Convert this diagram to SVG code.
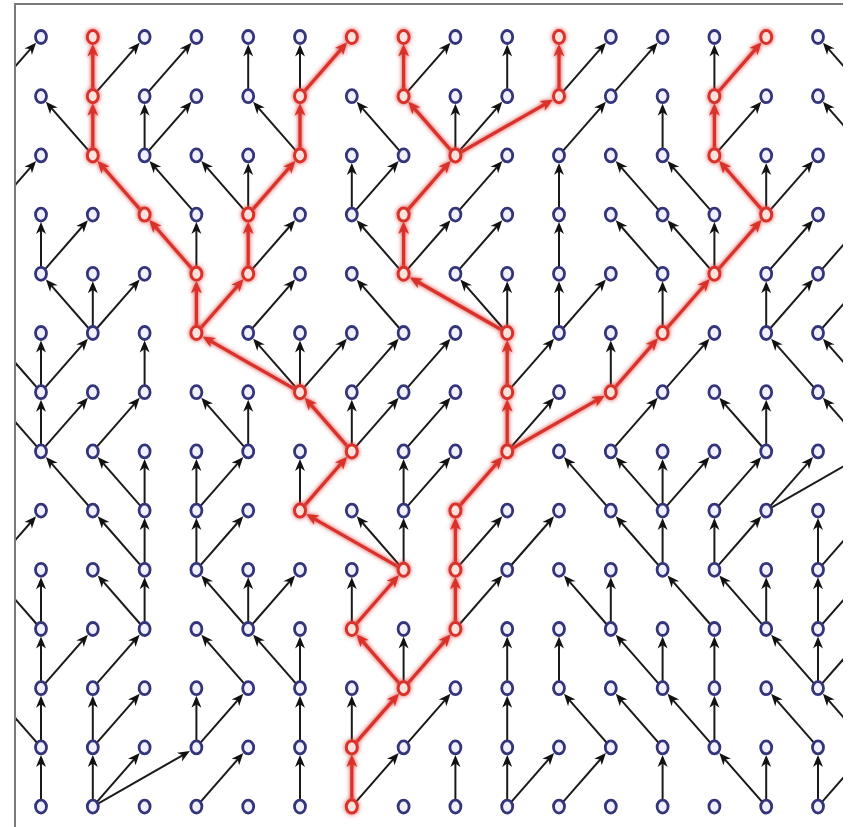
<svg xmlns="http://www.w3.org/2000/svg" width="850" height="827" viewBox="0 0 850 827">
<style>
.k{fill:none;stroke:#1a1a1a;stroke-width:2;marker-end:url(#ak)}
.r{fill:none;stroke:#d9302c;stroke-width:3.2;marker-end:url(#ar)}
.nodes ellipse{fill:#f1f0ff;stroke:#33347a;stroke-width:2.8}
.rnodes ellipse{fill:#ffe2dc;stroke:#d9302c;stroke-width:3}
.frame{stroke:#7a7a7a;stroke-width:2;fill:none}
</style>
<defs>
<marker id="ak" viewBox="-9 -7 14 14" refX="0" refY="0" markerWidth="14" markerHeight="14" markerUnits="userSpaceOnUse" orient="auto"><path d="M4,0 L-8,-5 L-4.5,0 L-8,5 Z" fill="#111"/></marker>
<marker id="ar" viewBox="-9 -7 14 14" refX="0" refY="0" markerWidth="14" markerHeight="14" markerUnits="userSpaceOnUse" orient="auto"><path d="M4.5,0 L-8,-5.5 L-4.5,0 L-8,5.5 Z" fill="#d9302c"/></marker>
<clipPath id="clip"><rect x="16" y="5" width="827" height="822"/></clipPath>
<filter id="glow" filterUnits="userSpaceOnUse" x="0" y="0" width="850" height="827"><feGaussianBlur in="SourceGraphic" stdDeviation="2.2" result="b"/><feMerge><feMergeNode in="b"/><feMergeNode in="SourceGraphic"/></feMerge></filter>
</defs>
<rect width="850" height="827" fill="#fff"/>
<g id="frame" class="frame"><path d="M15,3V827M14,4H843"/></g>
<g id="connectors" clip-path="url(#clip)">
<g id="black-edges" class="k">
<path d="M-10.8,96.2l44.23-50.55"/><path d="M92.8,96.2l44.23-50.55"/><path d="M144.6,96.2l44.23-50.55"/><path d="M248.2,96.2v-47.7"/><path d="M300,96.2v-47.7"/><path d="M403.6,96.2l44.23-50.55"/><path d="M507.2,96.2v-47.7"/><path d="M559,96.2l44.23-50.55"/><path d="M610.8,96.2l44.23-50.55"/><path d="M714.4,96.2v-47.7"/><path d="M869.8,96.2l-44.23-50.55"/>
<path d="M92.8,155.4l-44.23-50.55"/><path d="M144.6,155.4v-47.7"/><path d="M144.6,155.4l44.23-50.55"/><path d="M300,155.4l-44.23-50.55"/><path d="M403.6,155.4l-44.23-50.55"/><path d="M455.4,155.4v-47.7"/><path d="M455.4,155.4l44.23-50.55"/><path d="M559,155.4l44.23-50.55"/><path d="M662.6,155.4v-47.7"/><path d="M714.4,155.4l44.23-50.55"/><path d="M869.8,155.4l-44.23-50.55"/>
<path d="M-10.8,214.6l44.23-50.55"/><path d="M196.4,214.6l-44.23-50.55"/><path d="M248.2,214.6l-44.23-50.55"/><path d="M248.2,214.6v-47.7"/><path d="M351.8,214.6v-47.7"/><path d="M351.8,214.6l44.23-50.55"/><path d="M455.4,214.6l44.23-50.55"/><path d="M559,214.6v-47.7"/><path d="M662.6,214.6l-44.23-50.55"/><path d="M714.4,214.6l-44.23-50.55"/><path d="M766.2,214.6v-47.7"/><path d="M766.2,214.6l44.23-50.55"/>
<path d="M41,273.8v-47.7"/><path d="M41,273.8l44.23-50.55"/><path d="M196.4,273.8v-47.7"/><path d="M248.2,273.8l44.23-50.55"/><path d="M403.6,273.8l-44.23-50.55"/><path d="M403.6,273.8l44.23-50.55"/><path d="M455.4,273.8l44.23-50.55"/><path d="M559,273.8v-47.7"/><path d="M662.6,273.8l-44.23-50.55"/><path d="M714.4,273.8l-44.23-50.55"/><path d="M714.4,273.8v-47.7"/><path d="M766.2,273.8l44.23-50.55"/><path d="M818,273.8l44.23-50.55"/>
<path d="M92.8,333l-44.23-50.55"/><path d="M92.8,333v-47.7"/><path d="M92.8,333l44.23-50.55"/><path d="M248.2,333l44.23-50.55"/><path d="M403.6,333l-44.23-50.55"/><path d="M507.2,333l-44.23-50.55"/><path d="M507.2,333v-47.7"/><path d="M559,333v-47.7"/><path d="M559,333l44.23-50.55"/><path d="M662.6,333v-47.7"/><path d="M766.2,333v-47.7"/><path d="M766.2,333l44.23-50.55"/><path d="M818,333l44.23-50.55"/>
<path d="M41,392.2v-47.7"/><path d="M41,392.2l44.23-50.55"/><path d="M144.6,392.2v-47.7"/><path d="M300,392.2l-44.23-50.55"/><path d="M300,392.2v-47.7"/><path d="M300,392.2l44.23-50.55"/><path d="M351.8,392.2l44.23-50.55"/><path d="M403.6,392.2l44.23-50.55"/><path d="M507.2,392.2l44.23-50.55"/><path d="M610.8,392.2v-47.7"/><path d="M662.6,392.2l44.23-50.55"/><path d="M818,392.2l-44.23-50.55"/><path d="M869.8,392.2l-44.23-50.55"/><path d="M41,392.2l-44.23-50.55"/>
<path d="M41,451.4v-47.7"/><path d="M41,451.4l44.23-50.55"/><path d="M92.8,451.4l44.23-50.55"/><path d="M248.2,451.4l-44.23-50.55"/><path d="M248.2,451.4v-47.7"/><path d="M351.8,451.4v-47.7"/><path d="M351.8,451.4l44.23-50.55"/><path d="M403.6,451.4l44.23-50.55"/><path d="M507.2,451.4l44.23-50.55"/><path d="M610.8,451.4l44.23-50.55"/><path d="M766.2,451.4l-44.23-50.55"/><path d="M766.2,451.4v-47.7"/><path d="M869.8,451.4l-44.23-50.55"/><path d="M41,451.4l-44.23-50.55"/>
<path d="M92.8,510.6l-44.23-50.55"/><path d="M144.6,510.6l-44.23-50.55"/><path d="M144.6,510.6v-47.7"/><path d="M196.4,510.6v-47.7"/><path d="M196.4,510.6l44.23-50.55"/><path d="M300,510.6v-47.7"/><path d="M403.6,510.6v-47.7"/><path d="M403.6,510.6l44.23-50.55"/><path d="M610.8,510.6l-44.23-50.55"/><path d="M662.6,510.6l-44.23-50.55"/><path d="M662.6,510.6v-47.7"/><path d="M662.6,510.6l44.23-50.55"/><path d="M714.4,510.6l44.23-50.55"/><path d="M766.2,510.6l44.23-50.55"/><path d="M766.2,510.6l93.62-53.5"/>
<path d="M-10.8,569.8l44.23-50.55"/><path d="M144.6,569.8l-44.23-50.55"/><path d="M144.6,569.8v-47.7"/><path d="M196.4,569.8v-47.7"/><path d="M196.4,569.8l44.23-50.55"/><path d="M403.6,569.8l-44.23-50.55"/><path d="M403.6,569.8v-47.7"/><path d="M455.4,569.8l44.23-50.55"/><path d="M507.2,569.8l44.23-50.55"/><path d="M662.6,569.8l-44.23-50.55"/><path d="M662.6,569.8v-47.7"/><path d="M714.4,569.8v-47.7"/><path d="M714.4,569.8l44.23-50.55"/><path d="M818,569.8v-47.7"/><path d="M818,569.8l44.23-50.55"/>
<path d="M41,629v-47.7"/><path d="M144.6,629l-44.23-50.55"/><path d="M144.6,629v-47.7"/><path d="M248.2,629l-44.23-50.55"/><path d="M248.2,629v-47.7"/><path d="M248.2,629l44.23-50.55"/><path d="M351.8,629v-47.7"/><path d="M455.4,629l44.23-50.55"/><path d="M610.8,629l-44.23-50.55"/><path d="M610.8,629v-47.7"/><path d="M714.4,629l-44.23-50.55"/><path d="M766.2,629l-44.23-50.55"/><path d="M766.2,629v-47.7"/><path d="M818,629v-47.7"/><path d="M41,629l-44.23-50.55"/><path d="M818,629l44.23-50.55"/>
<path d="M41,688.2v-47.7"/><path d="M41,688.2l44.23-50.55"/><path d="M92.8,688.2l44.23-50.55"/><path d="M248.2,688.2l-44.23-50.55"/><path d="M300,688.2l-44.23-50.55"/><path d="M300,688.2v-47.7"/><path d="M403.6,688.2v-47.7"/><path d="M507.2,688.2v-47.7"/><path d="M559,688.2v-47.7"/><path d="M662.6,688.2l-44.23-50.55"/><path d="M662.6,688.2v-47.7"/><path d="M714.4,688.2v-47.7"/><path d="M818,688.2l-44.23-50.55"/><path d="M818,688.2v-47.7"/><path d="M818,688.2l44.23-50.55"/>
<path d="M41,747.4v-47.7"/><path d="M92.8,747.4v-47.7"/><path d="M92.8,747.4l44.23-50.55"/><path d="M196.4,747.4v-47.7"/><path d="M196.4,747.4l44.23-50.55"/><path d="M300,747.4v-47.7"/><path d="M351.8,747.4v-47.7"/><path d="M403.6,747.4l44.23-50.55"/><path d="M507.2,747.4v-47.7"/><path d="M610.8,747.4l-44.23-50.55"/><path d="M662.6,747.4l-44.23-50.55"/><path d="M714.4,747.4l-44.23-50.55"/><path d="M714.4,747.4v-47.7"/><path d="M818,747.4l-44.23-50.55"/><path d="M869.8,747.4l-44.23-50.55"/><path d="M41,747.4l-44.23-50.55"/>
<path d="M41,806.6v-47.7"/><path d="M92.8,806.6v-47.7"/><path d="M92.8,806.6l44.23-50.55"/><path d="M92.8,806.6l93.62-53.5"/><path d="M196.4,806.6l44.23-50.55"/><path d="M300,806.6v-47.7"/><path d="M351.8,806.6l44.23-50.55"/><path d="M455.4,806.6v-47.7"/><path d="M507.2,806.6v-47.7"/><path d="M507.2,806.6l44.23-50.55"/><path d="M559,806.6l44.23-50.55"/><path d="M662.6,806.6v-47.7"/><path d="M766.2,806.6l-44.23-50.55"/><path d="M766.2,806.6v-47.7"/><path d="M818,806.6v-47.7"/><path d="M818,806.6l44.23-50.55"/>
</g>
<g id="red-edges" class="r" filter="url(#glow)">
<path d="M92.8,96.2v-47.7"/><path d="M300,96.2l44.23-50.55"/><path d="M403.6,96.2v-47.7"/><path d="M559,96.2v-47.7"/><path d="M714.4,96.2l44.23-50.55"/>
<path d="M92.8,155.4v-47.7"/><path d="M300,155.4v-47.7"/><path d="M455.4,155.4l-44.23-50.55"/><path d="M455.4,155.4l93.62-53.5"/><path d="M714.4,155.4v-47.7"/>
<path d="M144.6,214.6l-44.23-50.55"/><path d="M248.2,214.6l44.23-50.55"/><path d="M403.6,214.6l44.23-50.55"/><path d="M766.2,214.6l-44.23-50.55"/>
<path d="M196.4,273.8l-44.23-50.55"/><path d="M248.2,273.8v-47.7"/><path d="M403.6,273.8v-47.7"/><path d="M714.4,273.8l44.23-50.55"/>
<path d="M196.4,333v-47.7"/><path d="M196.4,333l44.23-50.55"/><path d="M507.2,333l-93.62-53.5"/><path d="M662.6,333l44.23-50.55"/>
<path d="M300,392.2l-93.62-53.5"/><path d="M507.2,392.2v-47.7"/><path d="M610.8,392.2l44.23-50.55"/>
<path d="M351.8,451.4l-44.23-50.55"/><path d="M507.2,451.4v-47.7"/><path d="M507.2,451.4l93.62-53.5"/>
<path d="M300,510.6l44.23-50.55"/><path d="M455.4,510.6l44.23-50.55"/>
<path d="M403.6,569.8l-93.62-53.5"/><path d="M455.4,569.8v-47.7"/>
<path d="M351.8,629l44.23-50.55"/><path d="M455.4,629v-47.7"/>
<path d="M403.6,688.2l-44.23-50.55"/><path d="M403.6,688.2l44.23-50.55"/>
<path d="M351.8,747.4l44.23-50.55"/>
<path d="M351.8,806.6v-47.7"/>
</g>
</g>
<g id="nodes" class="nodes">
<g id="n0-0"><ellipse cx="41" cy="37" rx="5.5" ry="6.5"/></g><g id="n0-2"><ellipse cx="144.6" cy="37" rx="5.5" ry="6.5"/></g><g id="n0-3"><ellipse cx="196.4" cy="37" rx="5.5" ry="6.5"/></g><g id="n0-4"><ellipse cx="248.2" cy="37" rx="5.5" ry="6.5"/></g><g id="n0-5"><ellipse cx="300" cy="37" rx="5.5" ry="6.5"/></g><g id="n0-8"><ellipse cx="455.4" cy="37" rx="5.5" ry="6.5"/></g><g id="n0-9"><ellipse cx="507.2" cy="37" rx="5.5" ry="6.5"/></g><g id="n0-11"><ellipse cx="610.8" cy="37" rx="5.5" ry="6.5"/></g><g id="n0-12"><ellipse cx="662.6" cy="37" rx="5.5" ry="6.5"/></g><g id="n0-13"><ellipse cx="714.4" cy="37" rx="5.5" ry="6.5"/></g><g id="n0-15"><ellipse cx="818" cy="37" rx="5.5" ry="6.5"/></g>
<g id="n1-0"><ellipse cx="41" cy="96.2" rx="5.5" ry="6.5"/></g><g id="n1-2"><ellipse cx="144.6" cy="96.2" rx="5.5" ry="6.5"/></g><g id="n1-3"><ellipse cx="196.4" cy="96.2" rx="5.5" ry="6.5"/></g><g id="n1-4"><ellipse cx="248.2" cy="96.2" rx="5.5" ry="6.5"/></g><g id="n1-6"><ellipse cx="351.8" cy="96.2" rx="5.5" ry="6.5"/></g><g id="n1-8"><ellipse cx="455.4" cy="96.2" rx="5.5" ry="6.5"/></g><g id="n1-9"><ellipse cx="507.2" cy="96.2" rx="5.5" ry="6.5"/></g><g id="n1-11"><ellipse cx="610.8" cy="96.2" rx="5.5" ry="6.5"/></g><g id="n1-12"><ellipse cx="662.6" cy="96.2" rx="5.5" ry="6.5"/></g><g id="n1-14"><ellipse cx="766.2" cy="96.2" rx="5.5" ry="6.5"/></g><g id="n1-15"><ellipse cx="818" cy="96.2" rx="5.5" ry="6.5"/></g>
<g id="n2-0"><ellipse cx="41" cy="155.4" rx="5.5" ry="6.5"/></g><g id="n2-2"><ellipse cx="144.6" cy="155.4" rx="5.5" ry="6.5"/></g><g id="n2-3"><ellipse cx="196.4" cy="155.4" rx="5.5" ry="6.5"/></g><g id="n2-4"><ellipse cx="248.2" cy="155.4" rx="5.5" ry="6.5"/></g><g id="n2-6"><ellipse cx="351.8" cy="155.4" rx="5.5" ry="6.5"/></g><g id="n2-7"><ellipse cx="403.6" cy="155.4" rx="5.5" ry="6.5"/></g><g id="n2-9"><ellipse cx="507.2" cy="155.4" rx="5.5" ry="6.5"/></g><g id="n2-10"><ellipse cx="559" cy="155.4" rx="5.5" ry="6.5"/></g><g id="n2-11"><ellipse cx="610.8" cy="155.4" rx="5.5" ry="6.5"/></g><g id="n2-12"><ellipse cx="662.6" cy="155.4" rx="5.5" ry="6.5"/></g><g id="n2-14"><ellipse cx="766.2" cy="155.4" rx="5.5" ry="6.5"/></g><g id="n2-15"><ellipse cx="818" cy="155.4" rx="5.5" ry="6.5"/></g>
<g id="n3-0"><ellipse cx="41" cy="214.6" rx="5.5" ry="6.5"/></g><g id="n3-1"><ellipse cx="92.8" cy="214.6" rx="5.5" ry="6.5"/></g><g id="n3-3"><ellipse cx="196.4" cy="214.6" rx="5.5" ry="6.5"/></g><g id="n3-5"><ellipse cx="300" cy="214.6" rx="5.5" ry="6.5"/></g><g id="n3-6"><ellipse cx="351.8" cy="214.6" rx="5.5" ry="6.5"/></g><g id="n3-8"><ellipse cx="455.4" cy="214.6" rx="5.5" ry="6.5"/></g><g id="n3-9"><ellipse cx="507.2" cy="214.6" rx="5.5" ry="6.5"/></g><g id="n3-10"><ellipse cx="559" cy="214.6" rx="5.5" ry="6.5"/></g><g id="n3-11"><ellipse cx="610.8" cy="214.6" rx="5.5" ry="6.5"/></g><g id="n3-12"><ellipse cx="662.6" cy="214.6" rx="5.5" ry="6.5"/></g><g id="n3-13"><ellipse cx="714.4" cy="214.6" rx="5.5" ry="6.5"/></g><g id="n3-15"><ellipse cx="818" cy="214.6" rx="5.5" ry="6.5"/></g>
<g id="n4-0"><ellipse cx="41" cy="273.8" rx="5.5" ry="6.5"/></g><g id="n4-1"><ellipse cx="92.8" cy="273.8" rx="5.5" ry="6.5"/></g><g id="n4-2"><ellipse cx="144.6" cy="273.8" rx="5.5" ry="6.5"/></g><g id="n4-5"><ellipse cx="300" cy="273.8" rx="5.5" ry="6.5"/></g><g id="n4-6"><ellipse cx="351.8" cy="273.8" rx="5.5" ry="6.5"/></g><g id="n4-8"><ellipse cx="455.4" cy="273.8" rx="5.5" ry="6.5"/></g><g id="n4-9"><ellipse cx="507.2" cy="273.8" rx="5.5" ry="6.5"/></g><g id="n4-10"><ellipse cx="559" cy="273.8" rx="5.5" ry="6.5"/></g><g id="n4-11"><ellipse cx="610.8" cy="273.8" rx="5.5" ry="6.5"/></g><g id="n4-12"><ellipse cx="662.6" cy="273.8" rx="5.5" ry="6.5"/></g><g id="n4-14"><ellipse cx="766.2" cy="273.8" rx="5.5" ry="6.5"/></g><g id="n4-15"><ellipse cx="818" cy="273.8" rx="5.5" ry="6.5"/></g>
<g id="n5-0"><ellipse cx="41" cy="333" rx="5.5" ry="6.5"/></g><g id="n5-1"><ellipse cx="92.8" cy="333" rx="5.5" ry="6.5"/></g><g id="n5-2"><ellipse cx="144.6" cy="333" rx="5.5" ry="6.5"/></g><g id="n5-4"><ellipse cx="248.2" cy="333" rx="5.5" ry="6.5"/></g><g id="n5-5"><ellipse cx="300" cy="333" rx="5.5" ry="6.5"/></g><g id="n5-6"><ellipse cx="351.8" cy="333" rx="5.5" ry="6.5"/></g><g id="n5-7"><ellipse cx="403.6" cy="333" rx="5.5" ry="6.5"/></g><g id="n5-8"><ellipse cx="455.4" cy="333" rx="5.5" ry="6.5"/></g><g id="n5-10"><ellipse cx="559" cy="333" rx="5.5" ry="6.5"/></g><g id="n5-11"><ellipse cx="610.8" cy="333" rx="5.5" ry="6.5"/></g><g id="n5-13"><ellipse cx="714.4" cy="333" rx="5.5" ry="6.5"/></g><g id="n5-14"><ellipse cx="766.2" cy="333" rx="5.5" ry="6.5"/></g><g id="n5-15"><ellipse cx="818" cy="333" rx="5.5" ry="6.5"/></g>
<g id="n6-0"><ellipse cx="41" cy="392.2" rx="5.5" ry="6.5"/></g><g id="n6-1"><ellipse cx="92.8" cy="392.2" rx="5.5" ry="6.5"/></g><g id="n6-2"><ellipse cx="144.6" cy="392.2" rx="5.5" ry="6.5"/></g><g id="n6-3"><ellipse cx="196.4" cy="392.2" rx="5.5" ry="6.5"/></g><g id="n6-4"><ellipse cx="248.2" cy="392.2" rx="5.5" ry="6.5"/></g><g id="n6-6"><ellipse cx="351.8" cy="392.2" rx="5.5" ry="6.5"/></g><g id="n6-7"><ellipse cx="403.6" cy="392.2" rx="5.5" ry="6.5"/></g><g id="n6-8"><ellipse cx="455.4" cy="392.2" rx="5.5" ry="6.5"/></g><g id="n6-10"><ellipse cx="559" cy="392.2" rx="5.5" ry="6.5"/></g><g id="n6-12"><ellipse cx="662.6" cy="392.2" rx="5.5" ry="6.5"/></g><g id="n6-13"><ellipse cx="714.4" cy="392.2" rx="5.5" ry="6.5"/></g><g id="n6-14"><ellipse cx="766.2" cy="392.2" rx="5.5" ry="6.5"/></g><g id="n6-15"><ellipse cx="818" cy="392.2" rx="5.5" ry="6.5"/></g>
<g id="n7-0"><ellipse cx="41" cy="451.4" rx="5.5" ry="6.5"/></g><g id="n7-1"><ellipse cx="92.8" cy="451.4" rx="5.5" ry="6.5"/></g><g id="n7-2"><ellipse cx="144.6" cy="451.4" rx="5.5" ry="6.5"/></g><g id="n7-3"><ellipse cx="196.4" cy="451.4" rx="5.5" ry="6.5"/></g><g id="n7-4"><ellipse cx="248.2" cy="451.4" rx="5.5" ry="6.5"/></g><g id="n7-5"><ellipse cx="300" cy="451.4" rx="5.5" ry="6.5"/></g><g id="n7-7"><ellipse cx="403.6" cy="451.4" rx="5.5" ry="6.5"/></g><g id="n7-8"><ellipse cx="455.4" cy="451.4" rx="5.5" ry="6.5"/></g><g id="n7-10"><ellipse cx="559" cy="451.4" rx="5.5" ry="6.5"/></g><g id="n7-11"><ellipse cx="610.8" cy="451.4" rx="5.5" ry="6.5"/></g><g id="n7-12"><ellipse cx="662.6" cy="451.4" rx="5.5" ry="6.5"/></g><g id="n7-13"><ellipse cx="714.4" cy="451.4" rx="5.5" ry="6.5"/></g><g id="n7-14"><ellipse cx="766.2" cy="451.4" rx="5.5" ry="6.5"/></g><g id="n7-15"><ellipse cx="818" cy="451.4" rx="5.5" ry="6.5"/></g>
<g id="n8-0"><ellipse cx="41" cy="510.6" rx="5.5" ry="6.5"/></g><g id="n8-1"><ellipse cx="92.8" cy="510.6" rx="5.5" ry="6.5"/></g><g id="n8-2"><ellipse cx="144.6" cy="510.6" rx="5.5" ry="6.5"/></g><g id="n8-3"><ellipse cx="196.4" cy="510.6" rx="5.5" ry="6.5"/></g><g id="n8-4"><ellipse cx="248.2" cy="510.6" rx="5.5" ry="6.5"/></g><g id="n8-6"><ellipse cx="351.8" cy="510.6" rx="5.5" ry="6.5"/></g><g id="n8-7"><ellipse cx="403.6" cy="510.6" rx="5.5" ry="6.5"/></g><g id="n8-9"><ellipse cx="507.2" cy="510.6" rx="5.5" ry="6.5"/></g><g id="n8-10"><ellipse cx="559" cy="510.6" rx="5.5" ry="6.5"/></g><g id="n8-11"><ellipse cx="610.8" cy="510.6" rx="5.5" ry="6.5"/></g><g id="n8-12"><ellipse cx="662.6" cy="510.6" rx="5.5" ry="6.5"/></g><g id="n8-13"><ellipse cx="714.4" cy="510.6" rx="5.5" ry="6.5"/></g><g id="n8-14"><ellipse cx="766.2" cy="510.6" rx="5.5" ry="6.5"/></g><g id="n8-15"><ellipse cx="818" cy="510.6" rx="5.5" ry="6.5"/></g>
<g id="n9-0"><ellipse cx="41" cy="569.8" rx="5.5" ry="6.5"/></g><g id="n9-1"><ellipse cx="92.8" cy="569.8" rx="5.5" ry="6.5"/></g><g id="n9-2"><ellipse cx="144.6" cy="569.8" rx="5.5" ry="6.5"/></g><g id="n9-3"><ellipse cx="196.4" cy="569.8" rx="5.5" ry="6.5"/></g><g id="n9-4"><ellipse cx="248.2" cy="569.8" rx="5.5" ry="6.5"/></g><g id="n9-5"><ellipse cx="300" cy="569.8" rx="5.5" ry="6.5"/></g><g id="n9-6"><ellipse cx="351.8" cy="569.8" rx="5.5" ry="6.5"/></g><g id="n9-9"><ellipse cx="507.2" cy="569.8" rx="5.5" ry="6.5"/></g><g id="n9-10"><ellipse cx="559" cy="569.8" rx="5.5" ry="6.5"/></g><g id="n9-11"><ellipse cx="610.8" cy="569.8" rx="5.5" ry="6.5"/></g><g id="n9-12"><ellipse cx="662.6" cy="569.8" rx="5.5" ry="6.5"/></g><g id="n9-13"><ellipse cx="714.4" cy="569.8" rx="5.5" ry="6.5"/></g><g id="n9-14"><ellipse cx="766.2" cy="569.8" rx="5.5" ry="6.5"/></g><g id="n9-15"><ellipse cx="818" cy="569.8" rx="5.5" ry="6.5"/></g>
<g id="n10-0"><ellipse cx="41" cy="629" rx="5.5" ry="6.5"/></g><g id="n10-1"><ellipse cx="92.8" cy="629" rx="5.5" ry="6.5"/></g><g id="n10-2"><ellipse cx="144.6" cy="629" rx="5.5" ry="6.5"/></g><g id="n10-3"><ellipse cx="196.4" cy="629" rx="5.5" ry="6.5"/></g><g id="n10-4"><ellipse cx="248.2" cy="629" rx="5.5" ry="6.5"/></g><g id="n10-5"><ellipse cx="300" cy="629" rx="5.5" ry="6.5"/></g><g id="n10-7"><ellipse cx="403.6" cy="629" rx="5.5" ry="6.5"/></g><g id="n10-9"><ellipse cx="507.2" cy="629" rx="5.5" ry="6.5"/></g><g id="n10-10"><ellipse cx="559" cy="629" rx="5.5" ry="6.5"/></g><g id="n10-11"><ellipse cx="610.8" cy="629" rx="5.5" ry="6.5"/></g><g id="n10-12"><ellipse cx="662.6" cy="629" rx="5.5" ry="6.5"/></g><g id="n10-13"><ellipse cx="714.4" cy="629" rx="5.5" ry="6.5"/></g><g id="n10-14"><ellipse cx="766.2" cy="629" rx="5.5" ry="6.5"/></g><g id="n10-15"><ellipse cx="818" cy="629" rx="5.5" ry="6.5"/></g>
<g id="n11-0"><ellipse cx="41" cy="688.2" rx="5.5" ry="6.5"/></g><g id="n11-1"><ellipse cx="92.8" cy="688.2" rx="5.5" ry="6.5"/></g><g id="n11-2"><ellipse cx="144.6" cy="688.2" rx="5.5" ry="6.5"/></g><g id="n11-3"><ellipse cx="196.4" cy="688.2" rx="5.5" ry="6.5"/></g><g id="n11-4"><ellipse cx="248.2" cy="688.2" rx="5.5" ry="6.5"/></g><g id="n11-5"><ellipse cx="300" cy="688.2" rx="5.5" ry="6.5"/></g><g id="n11-6"><ellipse cx="351.8" cy="688.2" rx="5.5" ry="6.5"/></g><g id="n11-8"><ellipse cx="455.4" cy="688.2" rx="5.5" ry="6.5"/></g><g id="n11-9"><ellipse cx="507.2" cy="688.2" rx="5.5" ry="6.5"/></g><g id="n11-10"><ellipse cx="559" cy="688.2" rx="5.5" ry="6.5"/></g><g id="n11-11"><ellipse cx="610.8" cy="688.2" rx="5.5" ry="6.5"/></g><g id="n11-12"><ellipse cx="662.6" cy="688.2" rx="5.5" ry="6.5"/></g><g id="n11-13"><ellipse cx="714.4" cy="688.2" rx="5.5" ry="6.5"/></g><g id="n11-14"><ellipse cx="766.2" cy="688.2" rx="5.5" ry="6.5"/></g><g id="n11-15"><ellipse cx="818" cy="688.2" rx="5.5" ry="6.5"/></g>
<g id="n12-0"><ellipse cx="41" cy="747.4" rx="5.5" ry="6.5"/></g><g id="n12-1"><ellipse cx="92.8" cy="747.4" rx="5.5" ry="6.5"/></g><g id="n12-2"><ellipse cx="144.6" cy="747.4" rx="5.5" ry="6.5"/></g><g id="n12-3"><ellipse cx="196.4" cy="747.4" rx="5.5" ry="6.5"/></g><g id="n12-4"><ellipse cx="248.2" cy="747.4" rx="5.5" ry="6.5"/></g><g id="n12-5"><ellipse cx="300" cy="747.4" rx="5.5" ry="6.5"/></g><g id="n12-7"><ellipse cx="403.6" cy="747.4" rx="5.5" ry="6.5"/></g><g id="n12-8"><ellipse cx="455.4" cy="747.4" rx="5.5" ry="6.5"/></g><g id="n12-9"><ellipse cx="507.2" cy="747.4" rx="5.5" ry="6.5"/></g><g id="n12-10"><ellipse cx="559" cy="747.4" rx="5.5" ry="6.5"/></g><g id="n12-11"><ellipse cx="610.8" cy="747.4" rx="5.5" ry="6.5"/></g><g id="n12-12"><ellipse cx="662.6" cy="747.4" rx="5.5" ry="6.5"/></g><g id="n12-13"><ellipse cx="714.4" cy="747.4" rx="5.5" ry="6.5"/></g><g id="n12-14"><ellipse cx="766.2" cy="747.4" rx="5.5" ry="6.5"/></g><g id="n12-15"><ellipse cx="818" cy="747.4" rx="5.5" ry="6.5"/></g>
<g id="n13-0"><ellipse cx="41" cy="806.6" rx="5.5" ry="6.5"/></g><g id="n13-1"><ellipse cx="92.8" cy="806.6" rx="5.5" ry="6.5"/></g><g id="n13-2"><ellipse cx="144.6" cy="806.6" rx="5.5" ry="6.5"/></g><g id="n13-3"><ellipse cx="196.4" cy="806.6" rx="5.5" ry="6.5"/></g><g id="n13-4"><ellipse cx="248.2" cy="806.6" rx="5.5" ry="6.5"/></g><g id="n13-5"><ellipse cx="300" cy="806.6" rx="5.5" ry="6.5"/></g><g id="n13-7"><ellipse cx="403.6" cy="806.6" rx="5.5" ry="6.5"/></g><g id="n13-8"><ellipse cx="455.4" cy="806.6" rx="5.5" ry="6.5"/></g><g id="n13-9"><ellipse cx="507.2" cy="806.6" rx="5.5" ry="6.5"/></g><g id="n13-10"><ellipse cx="559" cy="806.6" rx="5.5" ry="6.5"/></g><g id="n13-11"><ellipse cx="610.8" cy="806.6" rx="5.5" ry="6.5"/></g><g id="n13-12"><ellipse cx="662.6" cy="806.6" rx="5.5" ry="6.5"/></g><g id="n13-13"><ellipse cx="714.4" cy="806.6" rx="5.5" ry="6.5"/></g><g id="n13-14"><ellipse cx="766.2" cy="806.6" rx="5.5" ry="6.5"/></g><g id="n13-15"><ellipse cx="818" cy="806.6" rx="5.5" ry="6.5"/></g>
</g>
<g id="red-nodes" class="rnodes" filter="url(#glow)">
<g id="n0-1"><ellipse cx="92.8" cy="37" rx="5.5" ry="6.5"/></g><g id="n0-6"><ellipse cx="351.8" cy="37" rx="5.5" ry="6.5"/></g><g id="n0-7"><ellipse cx="403.6" cy="37" rx="5.5" ry="6.5"/></g><g id="n0-10"><ellipse cx="559" cy="37" rx="5.5" ry="6.5"/></g><g id="n0-14"><ellipse cx="766.2" cy="37" rx="5.5" ry="6.5"/></g>
<g id="n1-1"><ellipse cx="92.8" cy="96.2" rx="5.5" ry="6.5"/></g><g id="n1-5"><ellipse cx="300" cy="96.2" rx="5.5" ry="6.5"/></g><g id="n1-7"><ellipse cx="403.6" cy="96.2" rx="5.5" ry="6.5"/></g><g id="n1-10"><ellipse cx="559" cy="96.2" rx="5.5" ry="6.5"/></g><g id="n1-13"><ellipse cx="714.4" cy="96.2" rx="5.5" ry="6.5"/></g>
<g id="n2-1"><ellipse cx="92.8" cy="155.4" rx="5.5" ry="6.5"/></g><g id="n2-5"><ellipse cx="300" cy="155.4" rx="5.5" ry="6.5"/></g><g id="n2-8"><ellipse cx="455.4" cy="155.4" rx="5.5" ry="6.5"/></g><g id="n2-13"><ellipse cx="714.4" cy="155.4" rx="5.5" ry="6.5"/></g>
<g id="n3-2"><ellipse cx="144.6" cy="214.6" rx="5.5" ry="6.5"/></g><g id="n3-4"><ellipse cx="248.2" cy="214.6" rx="5.5" ry="6.5"/></g><g id="n3-7"><ellipse cx="403.6" cy="214.6" rx="5.5" ry="6.5"/></g><g id="n3-14"><ellipse cx="766.2" cy="214.6" rx="5.5" ry="6.5"/></g>
<g id="n4-3"><ellipse cx="196.4" cy="273.8" rx="5.5" ry="6.5"/></g><g id="n4-4"><ellipse cx="248.2" cy="273.8" rx="5.5" ry="6.5"/></g><g id="n4-7"><ellipse cx="403.6" cy="273.8" rx="5.5" ry="6.5"/></g><g id="n4-13"><ellipse cx="714.4" cy="273.8" rx="5.5" ry="6.5"/></g>
<g id="n5-3"><ellipse cx="196.4" cy="333" rx="5.5" ry="6.5"/></g><g id="n5-9"><ellipse cx="507.2" cy="333" rx="5.5" ry="6.5"/></g><g id="n5-12"><ellipse cx="662.6" cy="333" rx="5.5" ry="6.5"/></g>
<g id="n6-5"><ellipse cx="300" cy="392.2" rx="5.5" ry="6.5"/></g><g id="n6-9"><ellipse cx="507.2" cy="392.2" rx="5.5" ry="6.5"/></g><g id="n6-11"><ellipse cx="610.8" cy="392.2" rx="5.5" ry="6.5"/></g>
<g id="n7-6"><ellipse cx="351.8" cy="451.4" rx="5.5" ry="6.5"/></g><g id="n7-9"><ellipse cx="507.2" cy="451.4" rx="5.5" ry="6.5"/></g>
<g id="n8-5"><ellipse cx="300" cy="510.6" rx="5.5" ry="6.5"/></g><g id="n8-8"><ellipse cx="455.4" cy="510.6" rx="5.5" ry="6.5"/></g>
<g id="n9-7"><ellipse cx="403.6" cy="569.8" rx="5.5" ry="6.5"/></g><g id="n9-8"><ellipse cx="455.4" cy="569.8" rx="5.5" ry="6.5"/></g>
<g id="n10-6"><ellipse cx="351.8" cy="629" rx="5.5" ry="6.5"/></g><g id="n10-8"><ellipse cx="455.4" cy="629" rx="5.5" ry="6.5"/></g>
<g id="n11-7"><ellipse cx="403.6" cy="688.2" rx="5.5" ry="6.5"/></g>
<g id="n12-6"><ellipse cx="351.8" cy="747.4" rx="5.5" ry="6.5"/></g>
<g id="n13-6"><ellipse cx="351.8" cy="806.6" rx="5.5" ry="6.5"/></g>
</g>
</svg>
